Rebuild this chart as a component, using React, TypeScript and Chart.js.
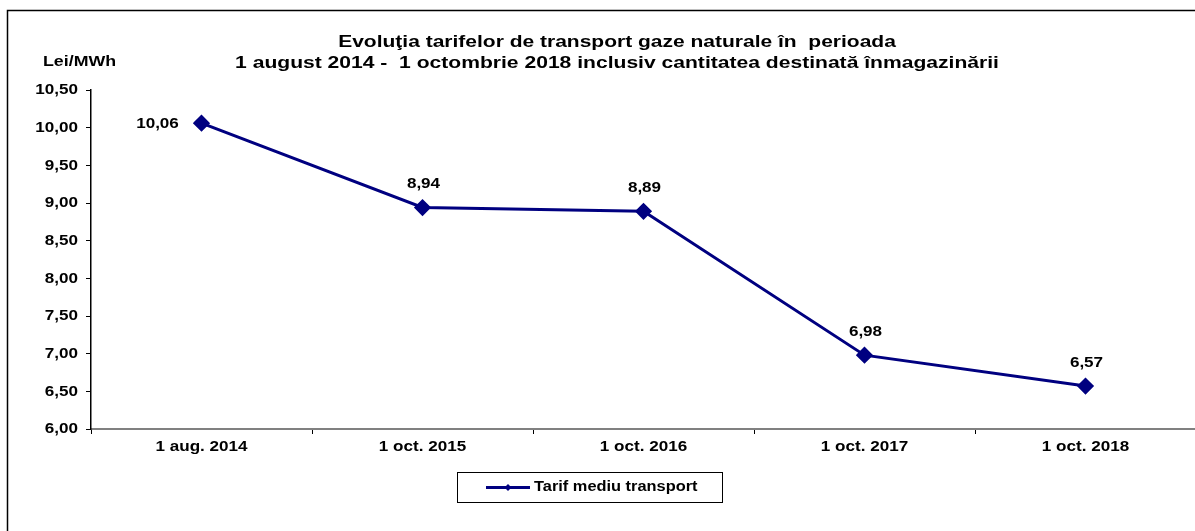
import React, { useEffect, useRef } from "react";
import { Chart, registerables } from "chart.js";

Chart.register(...registerables);

const titleLines = [
  "Evoluţia tarifelor de transport gaze naturale în  perioada",
  "1 august 2014 -  1 octombrie 2018 inclusiv cantitatea destinată înmagazinării",
];
const yAxisTitle = "Lei/MWh";
const categories = ["1 aug. 2014", "1 oct. 2015", "1 oct. 2016", "1 oct. 2017", "1 oct. 2018"];
const seriesName = "Tarif mediu transport";
const tarifValues = [10.06, 8.94, 8.89, 6.98, 6.57];
const yMin = 6;
const yMax = 10.5;
const yStep = 0.5;

const NAVY = "#000080";
const FONT = "'Liberation Sans', Arial, sans-serif";
const SX = 1.22;

const fmt = (v: number) => v.toFixed(2).replace(".", ",");

function txt(
  ctx: CanvasRenderingContext2D,
  s: string,
  x: number,
  y: number,
  align: CanvasTextAlign,
  size: number,
  sx: number = SX
) {
  ctx.save();
  ctx.translate(x, y);
  ctx.scale(sx, 1);
  ctx.font = `bold ${size}px ${FONT}`;
  ctx.textAlign = align;
  ctx.textBaseline = "middle";
  ctx.fillStyle = "#000";
  ctx.fillText(s, 0, 0);
  ctx.restore();
}

const decorPlugin = {
  id: "decor",
  afterDraw(chart: any) {
    const ctx = chart.ctx as CanvasRenderingContext2D;
    ctx.save();
    // outer border
    ctx.strokeStyle = "#000";
    ctx.lineWidth = 1.5;
    ctx.strokeRect(7.5, 10.5, 1300, 600);

    // title
    txt(ctx, titleLines[0], 617, 42, "center", 17, 1.235);
    txt(ctx, titleLines[1], 617, 63, "center", 17, 1.24);

    // axis title
    txt(ctx, yAxisTitle, 43, 62, "left", 14, 1.27);

    // y tick labels
    const ys = chart.scales.y;
    ys.ticks.forEach((t: any) => {
      const py = ys.getPixelForValue(t.value);
      txt(ctx, fmt(t.value), 78, py + 0.5, "right", 14);
    });

    // x tick labels
    const xs = chart.scales.x;
    categories.forEach((c, i) => {
      const px = xs.getPixelForValue(i);
      txt(ctx, c, px, 447, "center", 14);
    });

    // data labels
    const meta = chart.getDatasetMeta(0);
    meta.data.forEach((pt: any, i: number) => {
      const v = tarifValues[i];
      if (i === 0) {
        txt(ctx, fmt(v), pt.x - 44, pt.y + 1, "center", 14);
      } else {
        txt(ctx, fmt(v), pt.x + 1, pt.y - 23, "center", 14);
      }
    });

    // legend
    const lx = 457, ly = 472, lw = 265, lh = 30;
    ctx.lineWidth = 1;
    ctx.strokeStyle = "#000";
    ctx.strokeRect(lx + 0.5, ly + 0.5, lw, lh);
    const my = ly + lh / 2 + 0.5;
    ctx.strokeStyle = NAVY;
    ctx.lineWidth = 3;
    ctx.beginPath();
    ctx.moveTo(486, my);
    ctx.lineTo(530, my);
    ctx.stroke();
    ctx.fillStyle = NAVY;
    ctx.beginPath();
    ctx.moveTo(508, my - 3.5);
    ctx.lineTo(511.5, my);
    ctx.lineTo(508, my + 3.5);
    ctx.lineTo(504.5, my);
    ctx.closePath();
    ctx.fill();
    txt(ctx, seriesName, 534, my, "left", 14, 1.17);
    ctx.restore();
  },
};

export default function App() {
  const canvasRef = useRef<HTMLCanvasElement | null>(null);

  useEffect(() => {
    if (!canvasRef.current) return;
    const chart = new Chart(canvasRef.current, {
      type: "line",
      data: {
        labels: categories,
        datasets: [
          {
            label: seriesName,
            data: tarifValues,
            borderColor: NAVY,
            backgroundColor: NAVY,
            borderWidth: 3,
            pointStyle: "rectRot",
            pointRadius: 6.5,
            pointHoverRadius: 6.5,
            pointBackgroundColor: NAVY,
            pointBorderColor: NAVY,
            tension: 0,
          },
        ],
      },
      options: {
        animation: false,
        responsive: false,
        maintainAspectRatio: false,
        layout: { padding: { top: 90, right: 14, left: 0, bottom: 0 } },
        plugins: {
          legend: { display: false },
          title: { display: false },
          tooltip: { enabled: false },
        },
        scales: {
          x: {
            type: "category",
            offset: true,
            afterFit(scale: any) {
              scale.height = 102;
            },
            grid: {
              offset: true,
              drawOnChartArea: false,
              drawTicks: true,
              tickLength: 5,
              color: "#000",
            },
            border: { display: true, color: "#808080", width: 2 },
            ticks: {
              display: false,
            },
          },
          y: {
            min: yMin,
            max: yMax,
            afterFit(scale: any) {
              scale.width = 91;
            },
            grid: {
              drawOnChartArea: false,
              drawTicks: true,
              tickLength: 5,
              color: "#000",
            },
            border: { display: true, color: "#000", width: 1.5 },
            ticks: {
              stepSize: yStep,
              display: false,
            },
          },
        },
      },
      plugins: [decorPlugin],
    });
    return () => chart.destroy();
  }, []);

  return (
    <div
      style={{
        position: "fixed",
        left: 0,
        top: 0,
        width: 1195,
        height: 531,
        overflow: "hidden",
        background: "#fff",
      }}
    >
      <canvas ref={canvasRef} width={1210} height={531} style={{ display: "block" }} />
    </div>
  );
}
